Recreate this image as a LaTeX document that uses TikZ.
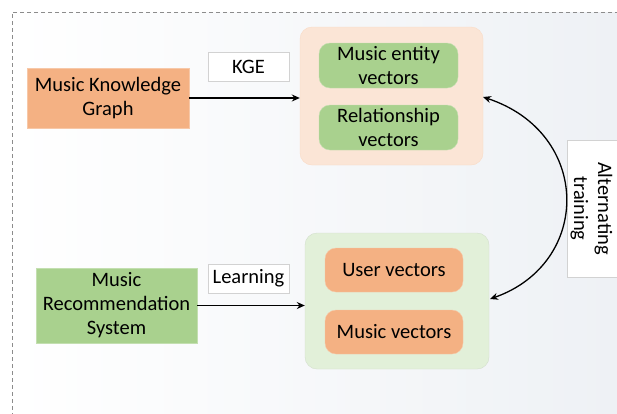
\documentclass[tikz,border=0pt]{standalone}
\usepackage{fontspec}
\setmainfont{Carlito}
\usetikzlibrary{arrows.meta}
\definecolor{orng}{HTML}{F4B183}
\definecolor{grn}{HTML}{A9D18E}
\definecolor{peach}{HTML}{FBE5D6}
\definecolor{lgrn}{HTML}{E2F0D9}
\definecolor{bgend}{HTML}{EEF1F5}
\begin{document}
\begin{tikzpicture}[x=1pt,y=-1pt,
  lbl/.style={font=\fontsize{20.5}{24}\selectfont, align=center, inner sep=0pt},
  cont/.style={rounded corners=12pt, inner sep=0pt},
  pill/.style={lbl, rounded corners=11pt, minimum width=139pt, minimum height=45pt},
  tagbox/.style={lbl, fill=white, draw=gray!35, line width=0.6pt, minimum width=81pt, minimum height=29pt},
  arr/.style={-{Stealth[length=8pt,width=7pt]}, line width=1.3pt}]
\useasboundingbox (0,0) rectangle (617,413);
\fill[white] (0,0) rectangle (617,413);
\shade[left color=white, right color=bgend] (12,12) rectangle (617,413);
\draw[gray!90, line width=0.7pt, dash pattern=on 4pt off 3pt] (640,12) -- (12,12) -- (12,430);

% top group
\node[cont, fill=peach, draw=peach!80!orng, minimum width=183pt, minimum height=138pt] (c1) at (391.5,96) {};
\node[pill, fill=grn, draw=grn!70!white] (mev) at (388.5,65.5) {Music entity\\vectors};
\node[pill, fill=grn, draw=grn!70!white] (rv) at (388.5,127.5) {Relationship\\vectors};
\node[lbl, fill=orng, draw=orng!70!white, minimum width=162pt, minimum height=60pt] (mkg) at (108,98) {Music Knowledge\\Graph};
\node[tagbox] (kge) at (248.5,66.5) {KGE};
\draw[arr] (mkg.east) -- (c1.west |- mkg.east);

% bottom group
\node[cont, fill=lgrn, draw=lgrn!85!gray, minimum width=184pt, minimum height=136pt] (c2) at (397,301) {};
\node[pill, fill=orng, draw=orng!70!white, minimum width=138pt, minimum height=44pt] (uv) at (394,270) {User vectors};
\node[pill, fill=orng, draw=orng!70!white, minimum width=138pt, minimum height=44pt] (mv) at (394,332) {Music vectors};
\node[lbl, fill=grn, draw=grn!70!white, minimum width=161pt, minimum height=75pt] (mrs) at (116.5,305.5) {Music\\Recommendation\\System};
\node[tagbox] (learn) at (248.5,278.5) {Learning};
\draw[arr] (mrs.east) -- (c2.west |- mrs.east);

% alternating training
\node[fill=white, draw=gray!35, line width=0.6pt, minimum width=90pt, minimum height=137pt, inner sep=0pt] (altbox) at (612,208.5) {};
\node[lbl, rotate=-90] (alt) at (591.5,208.5) {Alternating\\training};
\coordinate (a1) at (483,97);
\coordinate (a2) at (490,299);
\draw[{Stealth[length=8pt,width=7pt]}-{Stealth[length=8pt,width=7pt]}, line width=1.3pt] (a1) .. controls (592,133) and (592,263) .. (a2);
\end{tikzpicture}
\end{document}
